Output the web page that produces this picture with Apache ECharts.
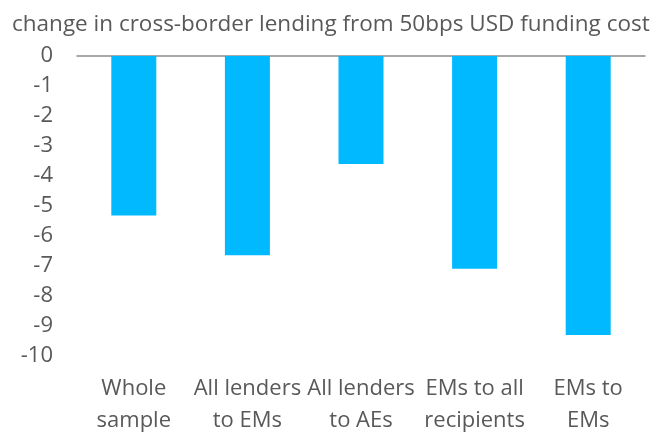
<!DOCTYPE html>
<html>
<head>
<meta charset="utf-8">
<script src="https://cdn.jsdelivr.net/npm/echarts@6/dist/echarts.min.js"></script>
<style>
  html, body { margin: 0; padding: 0; background: #fff; }
  #chart { width: 664px; height: 433px; }
</style>
</head>
<body>
<div id="chart"></div>
<script>
// Categories and values: change in cross-border lending (%)
const categories = ['Whole\nsample', 'All lenders\nto EMs', 'All lenders\nto AEs', 'EMs to all\nrecipients', 'EMs to\nEMs'];
const values = [-5.32, -6.64, -3.6, -7.09, -9.3];
const titleText = 'change in cross-border lending from 50bps USD funding cost';

const FONT = '"Open Sans", sans-serif';
const TEXT = '#595959';

const chart = echarts.init(document.getElementById('chart'), null, { renderer: 'canvas' });
chart.setOption({
  animation: false,
  title: {
    text: titleText,
    left: 7,
    top: 8,
    textStyle: { fontFamily: FONT, fontSize: 22.5, fontWeight: 'normal', color: TEXT }
  },
  grid: { left: 77, right: 19, top: 56, bottom: 77, containLabel: false, outerBoundsMode: 'none' },
  xAxis: [
    {
      type: 'category',
      data: categories,
      position: 'top',
      axisLine: { onZero: false, lineStyle: { color: '#8c8c8c', width: 1.5 } },
      axisTick: { show: false },
      axisLabel: { show: false }
    },
    {
      type: 'category',
      data: categories,
      position: 'bottom',
      axisLine: { show: false, onZero: false },
      axisTick: { show: false },
      axisLabel: {
        interval: 0,
        margin: 17,
        fontFamily: FONT,
        fontSize: 22,
        lineHeight: 32,
        color: TEXT
      }
    }
  ],
  yAxis: {
    type: 'value',
    min: -10,
    max: 0,
    interval: 1,
    axisLine: { show: false },
    axisTick: { show: false },
    splitLine: { show: false },
    axisLabel: { margin: 24, fontFamily: FONT, fontSize: 22, color: TEXT }
  },
  series: [{
    type: 'bar',
    xAxisIndex: 0,
    data: values,
    barWidth: 45,
    itemStyle: { color: '#00B9FF' }
  }]
});
</script>
</body>
</html>
